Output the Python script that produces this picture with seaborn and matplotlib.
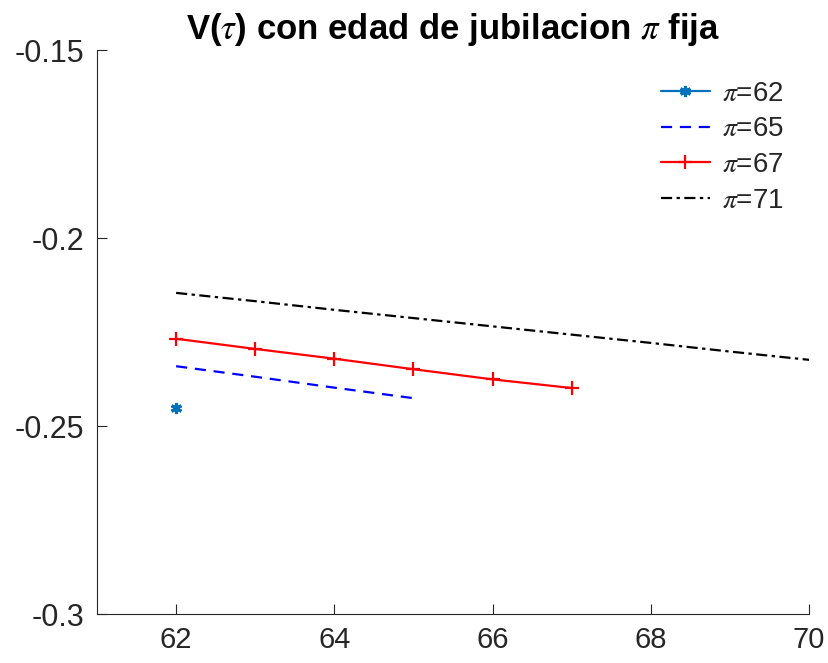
import matplotlib
matplotlib.use("Agg")
import matplotlib.pyplot as plt
import seaborn as sns
import pandas as pd

# data
x62 = [62]
y62 = [-0.2452]
x65 = [62, 63, 64, 65]
y65 = [-0.2341, -0.2369, -0.2398, -0.2426]
x67 = [62, 63, 64, 65, 66, 67]
y67 = [-0.2268, -0.2295, -0.2321, -0.2349, -0.2376, -0.2399]
x71 = [62, 63, 64, 65, 66, 67, 68, 69, 70, 71]
y71 = [-0.2146, -0.2168, -0.2191, -0.2213, -0.2235, -0.2257, -0.2279, -0.2302, -0.2324, -0.2346]
labels = [r'$\pi$=62', r'$\pi$=65', r'$\pi$=67', r'$\pi$=71']
xticks = [62, 64, 66, 68, 70]
yticks = [-0.3, -0.25, -0.2, -0.15]
ytick_labels = ['-0.3', '-0.25', '-0.2', '-0.15']

sns.set_theme(style="white")
plt.rcParams['font.family'] = ['Liberation Sans', 'DejaVu Sans']
plt.rcParams['mathtext.fontset'] = 'stix'

fig = plt.figure(figsize=(8.29, 6.63), dpi=100)
ax = fig.add_axes([97/829, 49/663, 712/829, 564/663])

for xs, ys in [(x62, y62), (x65, y65), (x67, y67), (x71, y71)]:
    sns.lineplot(x=xs, y=ys, ax=ax, legend=False)

styles = [
    dict(color='#0072BD', linestyle='-', marker=(6, 2, 0), markersize=8,
         markeredgewidth=2.2, markeredgecolor='#0072BD', markerfacecolor='#0072BD'),
    dict(color='#0000FF', linestyle=(0, (5, 3.5)), marker='None'),
    dict(color='#FF0000', linestyle='-', marker='+', markersize=10,
         markeredgewidth=1.6, markeredgecolor='#FF0000'),
    dict(color='#000000', linestyle=(0, (5, 2, 1.5, 2)), marker='None'),
]
lines = ax.get_lines()[:4]
for ln, st in zip(lines, styles):
    ln.set_linewidth(1.6)
    for k, v in st.items():
        getattr(ln, 'set_' + k)(v)

ax.set_xlim(61, 70)
ax.set_ylim(-0.3, -0.15)
ax.set_xticks(xticks)
ax.set_xticklabels([str(t) for t in xticks])
ax.set_yticks(yticks)
ax.set_yticklabels(ytick_labels)
ax.set_xlabel('')
ax.set_ylabel('')

for s in ['top', 'right']:
    ax.spines[s].set_visible(False)
for s in ['left', 'bottom']:
    ax.spines[s].set_color('#262626')
    ax.spines[s].set_linewidth(0.8)
ax.tick_params(axis='x', direction='in', length=7, width=0.8, colors='#262626',
               labelsize=21, labelcolor='#262626', bottom=True, pad=9)
ax.tick_params(axis='y', direction='in', length=7, width=0.8, colors='#262626',
               labelsize=22, labelcolor='#262626', left=True, pad=9)

ax.set_title(r'V($\tau$) con edad de jubilacion $\pi$ fija', fontsize=25,
             fontweight='bold', pad=8, color='black')

leg = ax.legend(lines, labels, loc='upper right', frameon=False, fontsize=20,
                handlelength=1.75, handletextpad=0.45, labelspacing=0.35,
                bbox_to_anchor=(1.0, 0.99))

fig.savefig('out.png', dpi=100)
